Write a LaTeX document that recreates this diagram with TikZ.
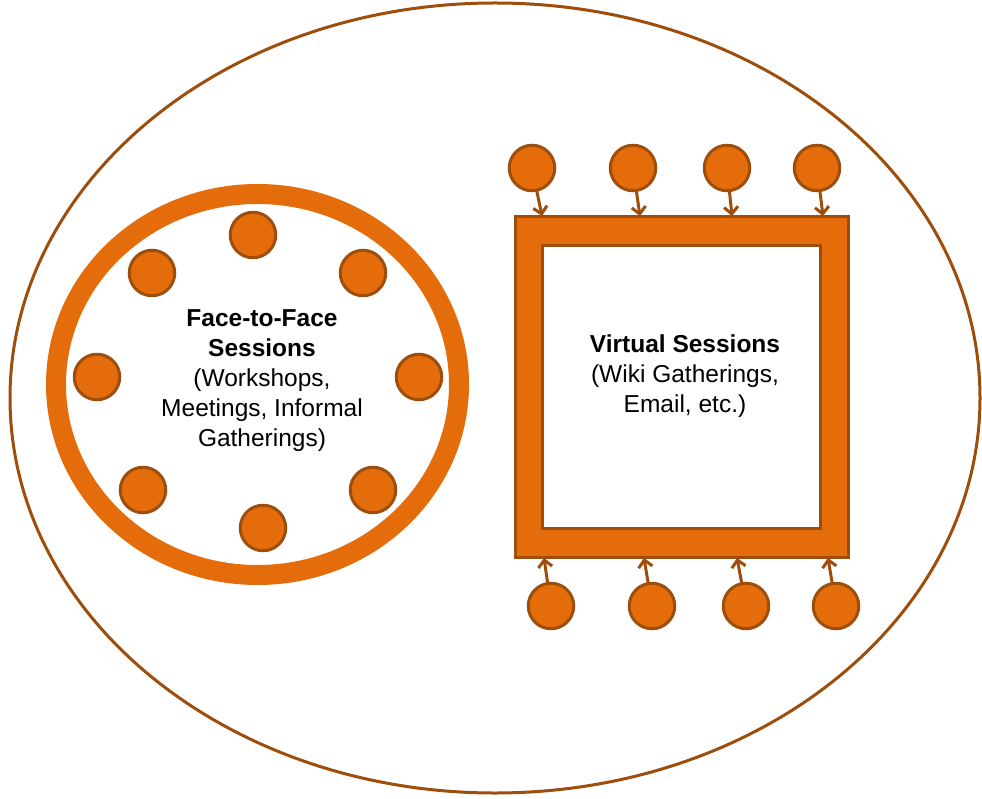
\documentclass[tikz,border=0pt]{standalone}
\usepackage{fontspec}
\setmainfont{Liberation Sans}
\usetikzlibrary{arrows.meta}
\definecolor{orng}{RGB}{228,108,10}
\definecolor{brwn}{RGB}{158,78,12}
\tikzset{
  dot/.style={circle, fill=orng, draw=brwn, line width=3pt, minimum size=45.5pt, inner sep=0pt},
  arr/.style={draw=brwn, line width=3pt, -{Straight Barb[length=7pt,width=14pt,line width=3pt]}, shorten <=-1pt},
  lbl/.style={align=center, font=\fontsize{24.5}{30}\selectfont, inner sep=0pt}
}
\begin{document}
\begin{tikzpicture}[x=1pt,y=-1pt]
\useasboundingbox (0,0) rectangle (982,799);
\fill[white] (0,0) rectangle (982,799);
% outer ellipse
\draw[brwn, line width=3pt] (495,398) ellipse [x radius=485pt, y radius=395pt];
% left ring
\draw[orng, line width=20pt] (257.5,384.5) ellipse [x radius=201.5pt, y radius=190.5pt];
% ring members
\node[dot] (f1) at (253,235) {};
\node[dot] (f2) at (152,273) {};
\node[dot] (f3) at (363,273) {};
\node[dot] (f4) at (97,377) {};
\node[dot] (f5) at (419,377) {};
\node[dot] (f6) at (143,490) {};
\node[dot] (f7) at (373,490) {};
\node[dot] (f8) at (263,528) {};
\node[lbl] (ftf) at (262,381) {\textbf{Face-to-Face}\\\textbf{Sessions}\\(Workshops,\\Meetings, Informal\\Gatherings)};
% square
\draw[fill=orng, draw=brwn, line width=3pt] (515,217) rectangle (848,557);
\draw[fill=white, draw=brwn, line width=3pt] (542,246) rectangle (820,528);
\node[lbl] (vs) at (685,376) {\textbf{Virtual Sessions}\\(Wiki Gatherings,\\Email, etc.)};
% top members
\node[dot] (t1) at (532,168) {};
\node[dot] (t2) at (633,168) {};
\node[dot] (t3) at (727,168) {};
\node[dot] (t4) at (817,168) {};
\coordinate (te1) at (542,216);
\coordinate (te2) at (640,216);
\coordinate (te3) at (732,216);
\coordinate (te4) at (823,216);
% bottom members
\node[dot] (b1) at (551,606) {};
\node[dot] (b2) at (652,606) {};
\node[dot] (b3) at (746,606) {};
\node[dot] (b4) at (836,606) {};
\coordinate (be1) at (544,558);
\coordinate (be2) at (644,558);
\coordinate (be3) at (737,558);
\coordinate (be4) at (828,558);
\draw[arr] (t1) -- (te1);
\draw[arr] (t2) -- (te2);
\draw[arr] (t3) -- (te3);
\draw[arr] (t4) -- (te4);
\draw[arr] (b1) -- (be1);
\draw[arr] (b2) -- (be2);
\draw[arr] (b3) -- (be3);
\draw[arr] (b4) -- (be4);
\end{tikzpicture}
\end{document}
